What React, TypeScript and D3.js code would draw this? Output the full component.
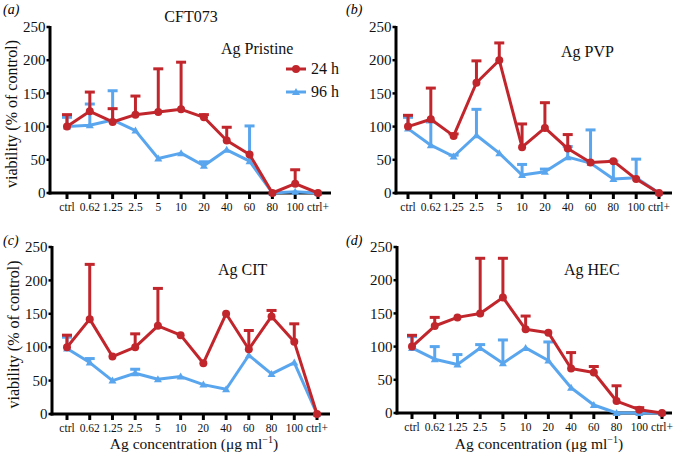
import React from "react";
import * as d3 from "d3";

const categories = ["ctrl", "0.62", "1.25", "2.5", "5", "10", "20", "40", "60", "80", "100", "ctrl+"];
const yTicks = [0, 50, 100, 150, 200, 250];

// Panel (a) Ag Pristine
const pristine24 = [100, 123, 107, 118, 122, 126, 114, 79, 58, 0, 14, 0];
const pristine24Err = [118, 152, 127, 146, 187, 197, 118, 99, null, null, 35, null];
const pristine96 = [100, 102, 110, 94, 52, 60, 41, 65, 48, 0, 2, 0];
const pristine96Err = [114, 134, 154, null, null, null, 47, null, 101, null, null, null];

// Panel (b) Ag PVP
const pvp24 = [100, 111, 86, 166, 200, 69, 98, 67, 46, 48, 21, 0];
const pvp24Err = [117, 158, 89, 199, 226, 104, 136, 88, null, null, null, null];
const pvp96 = [97, 72, 55, 87, 60, 27, 32, 54, 45, 21, 23, 0];
const pvp96Err = [114, 107, 57, 126, null, 43, 36, 70, 95, 48, 51, null];

// Panel (c) Ag CIT
const cit24 = [100, 142, 86, 100, 132, 118, 76, 150, 97, 146, 108, 0];
const cit24Err = [118, 224, null, 120, 188, null, null, null, 125, 155, 135, null];
const cit96 = [98, 77, 50, 61, 52, 56, 44, 37, 88, 60, 77, 0];
const cit96Err = [115, 83, null, 67, null, null, null, null, null, null, null, null];

// Panel (d) Ag HEC
const hec24 = [100, 131, 144, 150, 174, 126, 121, 67, 61, 18, 5, 0];
const hec24Err = [117, 144, null, 233, 233, 146, null, 91, 70, 41, 8, null];
const hec96 = [98, 81, 73, 98, 75, 98, 79, 38, 12, 0, 0, 0];
const hec96Err = [115, 100, 88, 103, 110, null, 107, null, null, null, null, null];

const RED = "#C1262C";
const BLUE = "#5AA6EE";
const FONT = "Liberation Serif, DejaVu Serif, Times New Roman, serif";
const fs = (size: number, extra: React.CSSProperties = {}): React.CSSProperties => ({
  fontFamily: FONT,
  fontSize: size,
  ...extra,
});

type Series = { values: number[]; err: (number | null)[]; color: string; marker: "circle" | "tri" };

type PanelProps = {
  letter: string;
  label: string;
  axisX: number;
  axisEnd: number;
  x0: number;
  x1: number;
  yTop: number;
  yBottom: number;
  labelX: number;
  labelY: number;
  letterX: number;
  letterY: number;
  series: Series[];
  yLabel?: boolean;
  xLabel?: boolean;
  legend?: boolean;
};

function Panel(p: PanelProps) {
  const x = d3.scalePoint<string>().domain(categories).range([p.x0, p.x1]);
  const y = d3.scaleLinear().domain([0, 250]).range([p.yBottom, p.yTop]);
  const line = d3
    .line<number>()
    .x((_, i) => x(categories[i]) as number)
    .y((d) => y(d));
  const capW = 5;
  return (
    <g>
      <text x={p.letterX} y={p.letterY} style={fs(14, { fontStyle: "italic" })}>
        ({p.letter})
      </text>
      <line x1={p.axisX} x2={p.axisX} y1={p.yTop - 1} y2={p.yBottom + 1.5} stroke="#000" strokeWidth={3} />
      <line x1={p.axisX - 1.5} x2={p.axisEnd} y1={p.yBottom} y2={p.yBottom} stroke="#000" strokeWidth={3} />
      {yTicks.map((t) => (
        <g key={t}>
          <line x1={p.axisX - 3.5} x2={p.axisX} y1={y(t)} y2={y(t)} stroke="#000" strokeWidth={2.5} />
          <text x={p.axisX - 4.5} y={y(t)} dy="0.35em" textAnchor="end" fill="#111" style={fs(15)}>
            {t}
          </text>
        </g>
      ))}
      {categories.map((c) => (
        <g key={c}>
          <line x1={x(c)} x2={x(c)} y1={p.yBottom} y2={p.yBottom + 6} stroke="#000" strokeWidth={3} />
          <text x={x(c)} y={p.yBottom + 17.5} textAnchor="middle" fill="#111" style={fs(11.5)}>
            {c}
          </text>
        </g>
      ))}
      {p.series.map((s, si) => (
        <g key={si}>
          {s.err.map((e, i) =>
            e == null ? null : (
              <g key={i}>
                <line
                  x1={x(categories[i])}
                  x2={x(categories[i])}
                  y1={y(s.values[i])}
                  y2={y(e)}
                  stroke={s.color}
                  strokeWidth={3}
                />
                <line
                  x1={(x(categories[i]) as number) - capW}
                  x2={(x(categories[i]) as number) + capW}
                  y1={y(e)}
                  y2={y(e)}
                  stroke={s.color}
                  strokeWidth={3}
                />
              </g>
            )
          )}
          <path d={line(s.values) as string} fill="none" stroke={s.color} strokeWidth={3} strokeLinejoin="round" />
          {s.values.map((v, i) => {
            const cx = x(categories[i]) as number;
            const cy = y(v);
            return s.marker === "circle" ? (
              <circle key={i} cx={cx} cy={cy} r={4} fill={s.color} />
            ) : (
              <path key={i} d={`M${cx},${cy - 4} L${cx + 4},${cy + 3} L${cx - 4},${cy + 3} Z`} fill={s.color} />
            );
          })}
        </g>
      ))}
      <text x={p.labelX} y={p.labelY} fill="#111" style={fs(16)}>
        {p.label}
      </text>
      {p.yLabel && (
        <text
          transform={`translate(${p.axisX - 33},${(p.yTop + p.yBottom) / 2 + 4}) rotate(-90)`}
          textAnchor="middle"
          fill="#111"
          style={fs(16)}
        >
          viability (% of control)
        </text>
      )}
      {p.xLabel && (
        <text x={(p.x0 + p.x1) / 2 + 2} y={449} textAnchor="middle" fill="#111" style={fs(15.5)}>
          Ag concentration (μg ml
          <tspan dy="-6" style={fs(10)}>−1</tspan>
          <tspan dy="6">)</tspan>
        </text>
      )}
      {p.legend && (
        <g>
          <line x1={286} x2={306} y1={69} y2={69} stroke={RED} strokeWidth={3} />
          <circle cx={296} cy={69} r={4} fill={RED} />
          <text x={311} y={74} fill="#111" style={fs(16)}>24 h</text>
          <line x1={286} x2={306} y1={92} y2={92} stroke={BLUE} strokeWidth={3} />
          <path d="M296,88 L300,95 L292,95 Z" fill={BLUE} />
          <text x={311} y={97} fill="#111" style={fs(16)}>96 h</text>
        </g>
      )}
    </g>
  );
}

export default function App() {
  const mk = (v24: number[], e24: (number | null)[], v96: number[], e96: (number | null)[]): Series[] => [
    { values: v96, err: e96, color: BLUE, marker: "tri" },
    { values: v24, err: e24, color: RED, marker: "circle" },
  ];
  return (
    <svg width={674} height={454} style={{ position: "absolute", left: 0, top: 0, background: "#fff" }}>
      <rect width={674} height={454} fill="#fff" />
      <text x={191} y={22} textAnchor="middle" fill="#111" style={fs(16)}>
        CFT073
      </text>
      <Panel
        letter="a"
        label="Ag Pristine"
        axisX={50}
        axisEnd={331}
        x0={67}
        x1={318}
        yTop={27}
        yBottom={193}
        labelX={221}
        labelY={54}
        letterX={3}
        letterY={14}
        series={mk(pristine24, pristine24Err, pristine96, pristine96Err)}
        yLabel
        legend
      />
      <Panel
        letter="b"
        label="Ag PVP"
        axisX={396}
        axisEnd={672}
        x0={408}
        x1={659}
        yTop={27}
        yBottom={193}
        labelX={561}
        labelY={57}
        letterX={346}
        letterY={14}
        series={mk(pvp24, pvp24Err, pvp96, pvp96Err)}
      />
      <Panel
        letter="c"
        label="Ag CIT"
        axisX={52}
        axisEnd={330}
        x0={67}
        x1={317}
        yTop={247}
        yBottom={414}
        labelX={218}
        labelY={275}
        letterX={3}
        letterY={245}
        series={mk(cit24, cit24Err, cit96, cit96Err)}
        yLabel
        xLabel
      />
      <Panel
        letter="d"
        label="Ag HEC"
        axisX={397}
        axisEnd={672}
        x0={412}
        x1={662}
        yTop={247}
        yBottom={413}
        labelX={564}
        labelY={275}
        letterX={346}
        letterY={245}
        series={mk(hec24, hec24Err, hec96, hec96Err)}
        xLabel
      />
    </svg>
  );
}
